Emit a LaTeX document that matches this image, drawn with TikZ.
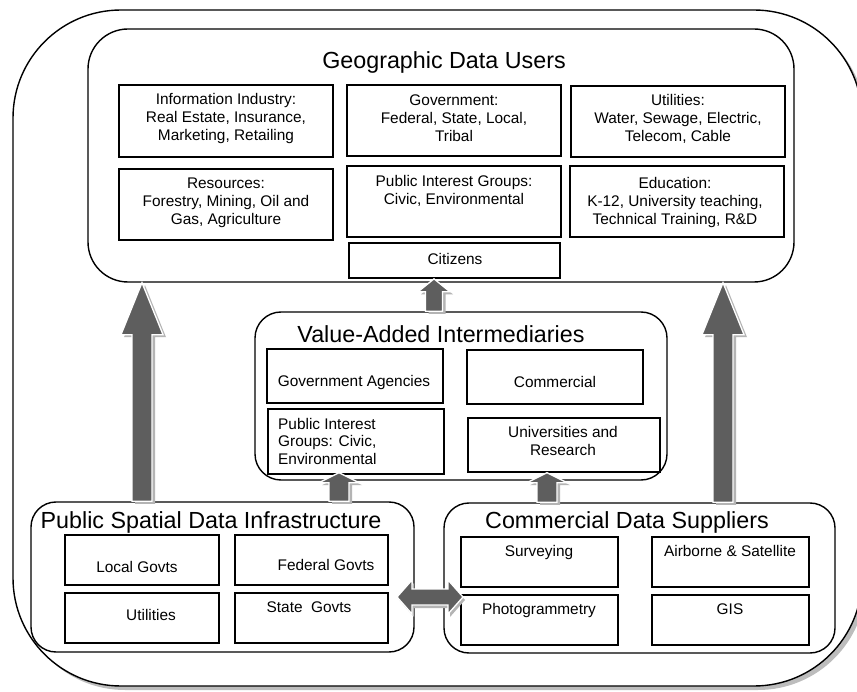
\documentclass[tikz,border=0pt]{standalone}
\usepackage{fontspec}
\setmainfont{Liberation Sans}
\usetikzlibrary{calc,fit}

\definecolor{arrowfill}{HTML}{5E5E5E}
\definecolor{arrowshade}{HTML}{B4B4B4}
\definecolor{frameshade}{HTML}{BDBDBD}

\tikzset{
  group/.style={draw, line width=1.4pt, inner sep=0pt, fit={#1}},
  cell/.style={draw, line width=1.7pt, inner sep=0pt, fit={#1}},
  heading/.style={font=\fontsize{23.3}{28}\selectfont, inner sep=0pt},
  celltext/.style={font=\fontsize{15.4}{18}\selectfont, align=center, inner sep=0pt},
  blockarrow/.style={fill=arrowfill, draw=white, line width=1.3pt, line join=miter},
  blockshade/.style={fill=arrowshade},
}

% upward block arrow outline: style, tail, tip, shaft half width, head half width, head length, dx, dy
\newcommand\uppath[8]{%
  \path[#1] let \p1=(#2), \p2=(#3) in
    (\x1-#4+#7,\y1+#8) -- (\x1-#4+#7,\y2-#6+#8) -- (\x1-#5+#7,\y2-#6+#8) -- (\x1+#7,\y2+#8)
    -- (\x1+#5+#7,\y2-#6+#8) -- (\x1+#4+#7,\y2-#6+#8) -- (\x1+#4+#7,\y1+#8) -- cycle;}
\newcommand\upblock[5]{%
  \uppath{blockshade}{#1}{#2}{#3}{#4}{#5}{3pt}{-2.5pt}%
  \uppath{blockarrow}{#1}{#2}{#3}{#4}{#5}{0pt}{0pt}}

% two-headed horizontal block arrow: style, left tip, right tip, shaft half, head half, head length, dx, dy
\newcommand\sidepath[8]{%
  \path[#1] let \p1=(#2), \p2=(#3) in
    (\x1+#7,\y1+#8) -- (\x1+#6+#7,\y1+#5+#8) -- (\x1+#6+#7,\y1+#4+#8) -- (\x2-#6+#7,\y1+#4+#8)
    -- (\x2-#6+#7,\y1+#5+#8) -- (\x2+#7,\y1+#8) -- (\x2-#6+#7,\y1-#5+#8) -- (\x2-#6+#7,\y1-#4+#8)
    -- (\x1+#6+#7,\y1-#4+#8) -- (\x1+#6+#7,\y1-#5+#8) -- cycle;}
\newcommand\sideblock[5]{%
  \sidepath{blockshade}{#1}{#2}{#3}{#4}{#5}{2pt}{-3pt}%
  \sidepath{blockarrow}{#1}{#2}{#3}{#4}{#5}{0pt}{0pt}}

\begin{document}
\begin{tikzpicture}[x=1pt, y=-1pt]
\useasboundingbox (0,0) rectangle (857,692);
\clip (0,0) rectangle (857,692);

% outer frame with its drop shadow
\fill[frameshade, rounded corners=108pt] (17,14) rectangle (866,690);
\node[draw, fill=white, line width=1.4pt, rounded corners=108pt, inner sep=0pt,
      fit={(13,10) (862,686)}] (frame) {};

% ---- Geographic Data Users ----
\node[group={(88,29) (794,282)}, rounded corners=40pt] (gdu) {};
\node[heading] (gdu-t) at (444,62) {Geographic Data Users};

\node[cell={(119,85) (333,157)}] (info) {};
\node[cell={(347,85) (561,156)}] (gov) {};
\node[cell={(571,86) (785,157)}] (util) {};
\node[cell={(119,169) (333,240)}] (res) {};
\node[cell={(347,166) (561,237)}] (pig) {};
\node[cell={(570,166) (784,237)}] (edu) {};
\node[cell={(349,243) (560,278)}] (cit) {};

\node[celltext] (info-t) at (226,119) {Information Industry:\\Real Estate, Insurance,\\Marketing, Retailing};
\node[celltext] (gov-t) at (454,118) {Government:\\Federal, State, Local,\\Tribal};
\node[celltext] (util-t) at (678,119) {Utilities:\\Water, Sewage, Electric,\\Telecom, Cable};
\node[celltext] (res-t) at (226,203) {Resources:\\Forestry, Mining, Oil and\\Gas, Agriculture};
\node[celltext] (pig-t) at (454,191) {Public Interest Groups:\\Civic, Environmental};
\node[celltext] (edu-t) at (675,203) {Education:\\K-12, University teaching,\\Technical Training, R\&D};
\node[celltext] (cit-t) at (455,259) {Citizens};

% ---- Value-Added Intermediaries ----
\node[group={(255,312) (667,480)}, rounded corners=26pt] (vai) {};
\node[heading] (vai-t) at (441,334) {Value-Added Intermediaries};

\node[cell={(267,349) (443,403)}] (agency) {};
\node[cell={(467,350) (643,404)}] (comm) {};
\node[cell={(268,409) (444,474)}] (vpig) {};
\node[cell={(468,418) (660,472)}] (univ) {};

\node[celltext] (agency-t) at (354,383) {Government Agencies};
\node[celltext] (comm-t) at (555,382) {Commercial};
\node[celltext, align=left, anchor=north west, font=\fontsize{15.4}{17.5}\selectfont]
  (vpig-t) at (278,418) {Public Interest\\Groups: Civic,\\Environmental};
\node[celltext, font=\fontsize{15.4}{17.5}\selectfont] (univ-t) at (563,441) {Universities and\\Research};

% ---- Public Spatial Data Infrastructure ----
\node[group={(31,502) (414,652)}, rounded corners=25pt] (psdi) {};
\node[heading] (psdi-t) at (211,522) {Public Spatial Data Infrastructure};

\node[cell={(65,535) (219,585)}] (local) {};
\node[cell={(235,535) (388,585)}] (fed) {};
\node[cell={(65,593) (219,643)}] (putil) {};
\node[cell={(235,593) (388,643)}] (state) {};

\node[celltext] (local-t) at (137,567) {Local Govts};
\node[celltext] (fed-t) at (326,565) {Federal Govts};
\node[celltext] (putil-t) at (151,615) {Utilities};
\node[celltext] (state-t) at (309,607) {State\ \ Govts};

% ---- Commercial Data Suppliers ----
\node[group={(444,503) (835,653)}, rounded corners=25pt] (cds) {};
\node[heading] (cds-t) at (627,522) {Commercial Data Suppliers};

\node[cell={(461,537) (618,587)}] (survey) {};
\node[cell={(652,537) (809,587)}] (air) {};
\node[cell={(461,595) (618,645)}] (photo) {};
\node[cell={(652,595) (809,645)}] (gis) {};

\node[celltext] (survey-t) at (539,553) {Surveying};
\node[celltext] (air-t) at (730,551) {Airborne \& Satellite};
\node[celltext] (photo-t) at (539,611) {Photogrammetry};
\node[celltext] (gis-t) at (730,609) {GIS};

% ---- flows between the groups ----
\coordinate (xl) at (142,0);
\coordinate (xr) at (723,0);
\coordinate (xc) at (434,0);
\coordinate (xp) at (339,0);
\coordinate (xs) at (547,0);
\coordinate (tipP) at ($(xp |- vai.south)+(0,-8)$);
\coordinate (tipS) at ($(xs |- vai.south)+(0,-8)$);
\coordinate (dl) at (397,597);
\coordinate (dr) at (463,597);

\upblock{xl |- psdi.north}{xl |- gdu.south}{10pt}{21pt}{52pt}
\upblock{xr |- cds.north}{xr |- gdu.south}{10pt}{21pt}{52pt}
\upblock{xc |- vai.north}{xc |- cit.south}{8.5pt}{16pt}{13pt}
\upblock{xp |- psdi.north}{tipP}{10pt}{20pt}{10pt}
\upblock{xs |- cds.north}{tipS}{10pt}{20pt}{10pt}
\sideblock{dl}{dr}{8pt}{17pt}{15pt}
\end{tikzpicture}
\end{document}
